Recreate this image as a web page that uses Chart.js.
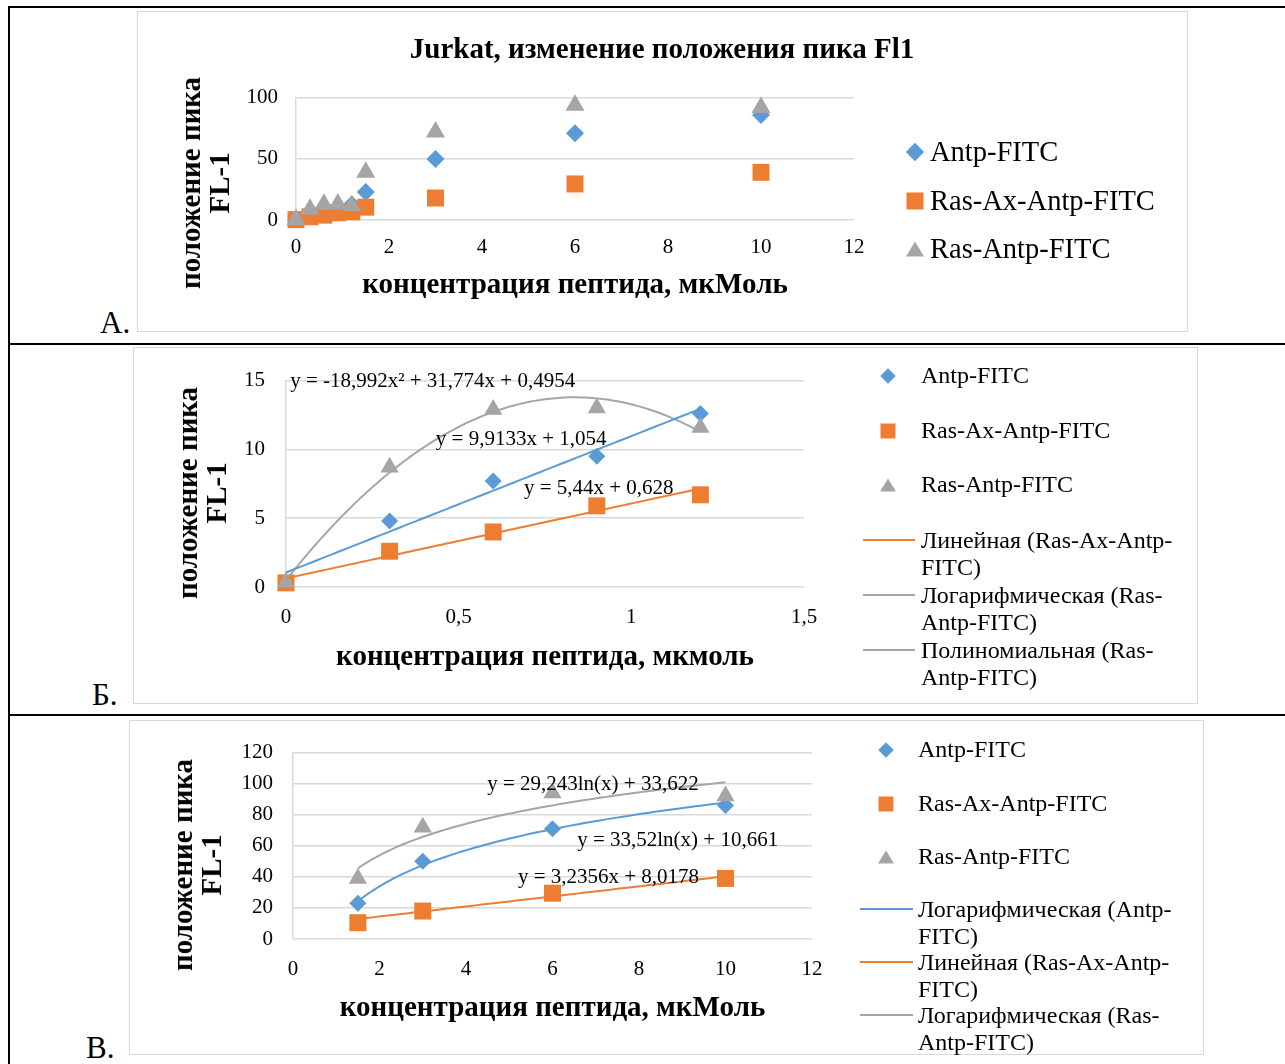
<!DOCTYPE html>
<html lang="ru">
<head>
<meta charset="utf-8">
<title>Jurkat, изменение положения пика Fl1</title>
<script src="https://cdn.jsdelivr.net/npm/chart.js@4.4.0/dist/chart.umd.min.js"></script>
<style>
  html, body { margin: 0; padding: 0; background: #fff; }
  body { width: 1285px; height: 1064px; position: relative; overflow: hidden;
         font-family: 'Liberation Serif', 'Times New Roman', serif; color: #000; }
  .hline { position: absolute; height: 2px; background: #000; }
  .vline { position: absolute; width: 2px; background: #000; }
  .box { position: absolute; border: 1.5px solid #d9d9d9; box-sizing: border-box; }
  .plot { position: absolute; }
  .ytitle { position: absolute; transform: translate(-50%, -50%) rotate(-90deg);
            font-weight: bold; font-size: 29px; line-height: 29px; text-align: center; white-space: nowrap; }
  .letter { position: absolute; font-size: 31px; line-height: 1; }
  .leg { position: absolute; white-space: nowrap; }
  .legA { font-size: 28.5px; line-height: 32px; }
  .legB { font-size: 24px; line-height: 27px; }
  .mk { position: absolute; transform: translate(-50%, -50%); }
  .dia { transform: translate(-50%, -50%) rotate(45deg); }
  .tri { width: 0; height: 0; background: none !important; border-style: solid; border-top-width: 0; }
  .ln { position: absolute; height: 2px; }
</style>
</head>
<body>

<!-- рамка таблицы -->
<div class="hline" style="left:8px; top:6px; width:1277px;"></div>
<div class="vline" style="left:8px; top:6px; height:1058px;"></div>
<div class="hline" style="left:8px; top:343px; width:1277px;"></div>
<div class="hline" style="left:8px; top:714px; width:1277px;"></div>

<!-- А -->
<div class="box" style="left:137px; top:11px; width:1051px; height:321px;"></div>
<div class="plot" style="left:137px; top:11px; width:1050px; height:320px;"><canvas id="chartA"></canvas></div>
<div class="ytitle" style="left:205px; top:183px;">положение пика<br>FL-1</div>
<div class="letter" style="left:100px; top:307px;">А.</div>

<div class="mk dia" style="left:915px; top:152px; width:13px; height:13px; background:#5b9bd5;"></div>
<div class="mk" style="left:915px; top:201px; width:17px; height:17px; background:#ed7d31;"></div>
<div class="mk tri" style="left:915px; top:249px; border-color: transparent transparent #a5a5a5 transparent; border-left-width:9px; border-right-width:9px; border-bottom-width:15px;"></div>
<div class="leg legA" style="left:930px; top:136px;">Antp-FITC</div>
<div class="leg legA" style="left:930px; top:185px;">Ras-Ax-Antp-FITC</div>
<div class="leg legA" style="left:930px; top:233px;">Ras-Antp-FITC</div>

<!-- Б -->
<div class="box" style="left:133px; top:347px; width:1065px; height:357px;"></div>
<div class="plot" style="left:133px; top:347px; width:1064px; height:356px;"><canvas id="chartB"></canvas></div>
<div class="ytitle" style="left:202px; top:493px;">положение пика<br>FL-1</div>
<div class="letter" style="left:92px; top:679px;">Б.</div>

<div class="mk dia" style="left:888px; top:376px; width:11px; height:11px; background:#5b9bd5;"></div>
<div class="mk" style="left:888px; top:431px; width:15px; height:15px; background:#ed7d31;"></div>
<div class="mk tri" style="left:888px; top:485px; border-color: transparent transparent #a5a5a5 transparent; border-left-width:8px; border-right-width:8px; border-bottom-width:13px;"></div>
<div class="ln" style="left:863px; top:539px; width:52px; background:#ed7d31;"></div>
<div class="ln" style="left:863px; top:594px; width:52px; background:#a5a5a5;"></div>
<div class="ln" style="left:863px; top:649px; width:52px; background:#a5a5a5;"></div>
<div class="leg legB" style="left:921px; top:362px;">Antp-FITC</div>
<div class="leg legB" style="left:921px; top:417px;">Ras-Ax-Antp-FITC</div>
<div class="leg legB" style="left:921px; top:471px;">Ras-Antp-FITC</div>
<div class="leg legB" style="left:921px; top:527px;">Линейная (Ras-Ax-Antp-<br>FITC)</div>
<div class="leg legB" style="left:921px; top:582px;">Логарифмическая (Ras-<br>Antp-FITC)</div>
<div class="leg legB" style="left:921px; top:637px;">Полиномиальная (Ras-<br>Antp-FITC)</div>

<!-- В -->
<div class="box" style="left:129px; top:720px; width:1075px; height:335px;"></div>
<div class="plot" style="left:130px; top:720px; width:1074px; height:334px;"><canvas id="chartC"></canvas></div>
<div class="ytitle" style="left:197px; top:865px;">положение пика<br>FL-1</div>
<div class="letter" style="left:86px; top:1032px;">В.</div>

<div class="mk dia" style="left:886px; top:750px; width:11px; height:11px; background:#5b9bd5;"></div>
<div class="mk" style="left:886px; top:804px; width:15px; height:15px; background:#ed7d31;"></div>
<div class="mk tri" style="left:886px; top:857px; border-color: transparent transparent #a5a5a5 transparent; border-left-width:8px; border-right-width:8px; border-bottom-width:13px;"></div>
<div class="ln" style="left:860px; top:908px; width:53px; background:#5b9bd5;"></div>
<div class="ln" style="left:860px; top:961px; width:53px; background:#ed7d31;"></div>
<div class="ln" style="left:860px; top:1014px; width:53px; background:#a5a5a5;"></div>
<div class="leg legB" style="left:918px; top:736px;">Antp-FITC</div>
<div class="leg legB" style="left:918px; top:790px;">Ras-Ax-Antp-FITC</div>
<div class="leg legB" style="left:918px; top:843px;">Ras-Antp-FITC</div>
<div class="leg legB" style="left:918px; top:896px;">Логарифмическая (Antp-<br>FITC)</div>
<div class="leg legB" style="left:918px; top:949px;">Линейная (Ras-Ax-Antp-<br>FITC)</div>
<div class="leg legB" style="left:918px; top:1002px;">Логарифмическая (Ras-<br>Antp-FITC)</div>

<script>
Chart.defaults.font.family = "'Liberation Serif', 'Times New Roman', serif";
Chart.defaults.color = '#000';
Chart.defaults.maintainAspectRatio = false;
Chart.defaults.responsive = true;
Chart.defaults.animation = false;

// концентрация пептида, мкМоль
const concentration = [0, 0.3, 0.6, 0.9, 1.2, 1.5, 3, 6, 10];
// положение пика FL-1
const antpFitc      = [0.3, 4.8, 7.7, 9.5, 12.6, 23, 50, 71, 86];
const rasAxAntpFitc = [0.3, 2.6, 4.0, 5.9, 6.7, 10.5, 18, 29.5, 39];
const rasAntpFitc   = [0.35, 8.7, 12.9, 13.0, 11.6, 39, 72, 94, 92];

// оси
const xTicksA = [0, 2, 4, 6, 8, 10, 12];
const yTicksA = [0, 50, 100];
const xTicksB = [0, 0.5, 1, 1.5];
const yTicksB = [0, 5, 10, 15];
const xTicksC = [0, 2, 4, 6, 8, 10, 12];
const yTicksC = [0, 20, 40, 60, 80, 100, 120];

// коэффициенты линий тренда (из уравнений на графике)
const trendB_antp    = [9.9133, 1.054];            // a*x + b
const trendB_rasAx   = [5.44, 0.628];              // a*x + b
const trendB_rasAntp = [-18.992, 31.774, 0.4954];  // a*x^2 + b*x + c
const trendC_antp    = [33.52, 10.661];            // a*ln(x) + b
const trendC_rasAx   = [3.2356, 8.0178];           // a*x + b
const trendC_rasAntp = [29.243, 33.622];           // a*ln(x) + b

const BLUE = '#5b9bd5', ORANGE = '#ed7d31', GRAY = '#a5a5a5';

const pts = (xs, ys) => xs.map((x, i) => ({ x: x, y: ys[i] }));
const lin = c => x => c[0] * x + c[1];
const poly2 = c => x => c[0] * x * x + c[1] * x + c[2];
const logf = c => x => c[0] * Math.log(x) + c[1];

function trend(fn, x0, x1) {
    const out = [];
    for (let i = 0; i <= 80; i++) {
        const x = x0 + (x1 - x0) * i / 80;
        out.push({ x: x, y: fn(x) });
    }
    return out;
}

function markers(label, data, style, radius, color, order) {
    return {
        label: label, data: data, pointStyle: style, pointRadius: radius,
        backgroundColor: color, borderColor: color, pointBorderWidth: 0,
        showLine: false, clip: false, order: order
    };
}

function trendLine(data, color) {
    return {
        data: data, showLine: true, pointRadius: 0, borderColor: color,
        borderWidth: 2, fill: false, tension: 0, clip: false, order: 0
    };
}

const fmt = v => String(v).replace('.', ',');

function xScale(ticks, height, pad, title) {
    return {
        type: 'linear', position: 'bottom', min: ticks[0], max: ticks[ticks.length - 1],
        afterBuildTicks: s => { s.ticks = ticks.map(v => ({ value: v })); },
        afterFit: s => { s.height = height; },
        grid: { display: false, drawTicks: false },
        border: { display: false },
        ticks: { padding: pad, font: { size: 21 }, color: '#000', callback: fmt },
        title: {
            display: true, text: title, color: '#000',
            font: { size: 29, weight: 'bold', lineHeight: 1.1 },
            padding: { top: 30, bottom: 30 }
        }
    };
}

function yScale(ticks, width, pad) {
    return {
        type: 'linear', min: ticks[0], max: ticks[ticks.length - 1],
        afterBuildTicks: s => { s.ticks = ticks.map(v => ({ value: v })); },
        afterFit: s => { s.width = width; },
        grid: { color: '#d9d9d9', lineWidth: 1.5, drawTicks: false },
        border: { display: true, color: '#d9d9d9', width: 1.5 },
        ticks: { padding: pad, font: { size: 21 }, color: '#000', callback: fmt }
    };
}

// пустое место справа под легенду (чтобы заголовок центрировался по всей рамке)
function spacer(width) {
    return {
        type: 'linear', position: 'right', display: true,
        afterFit: s => { s.width = width; },
        grid: { display: false, drawTicks: false },
        border: { display: false },
        ticks: { display: false }
    };
}

// подписи уравнений тренда
const eqLabels = {
    id: 'eqLabels',
    afterDatasetsDraw(chart, args, opts) {
        const items = opts.items || [];
        const ctx = chart.ctx, x = chart.scales.x, y = chart.scales.y;
        ctx.save();
        ctx.font = "21px 'Liberation Serif', serif";
        ctx.fillStyle = '#000';
        ctx.textAlign = 'left';
        ctx.textBaseline = 'middle';
        items.forEach(it => ctx.fillText(it.text, x.getPixelForValue(it.x), y.getPixelForValue(it.y)));
        ctx.restore();
    }
};

// А. Jurkat, все концентрации
new Chart(document.getElementById('chartA'), {
    type: 'scatter',
    data: {
        datasets: [
            markers('Antp-FITC', pts(concentration, antpFitc), 'rectRot', 9, BLUE, 3),
            markers('Ras-Ax-Antp-FITC', pts(concentration, rasAxAntpFitc), 'rect', 12, ORANGE, 2),
            markers('Ras-Antp-FITC', pts(concentration, rasAntpFitc), 'triangle', 11, GRAY, 1)
        ]
    },
    options: {
        layout: { padding: { left: 0, right: 0, top: 0, bottom: 0 } },
        plugins: {
            legend: { display: false },
            tooltip: { enabled: false },
            title: {
                display: true, text: 'Jurkat, изменение положения пика Fl1', color: '#000',
                font: { size: 29, weight: 'bold', lineHeight: 1.2 },
                padding: { top: 22, bottom: 30 }
            }
        },
        scales: {
            x: xScale(xTicksA, 111, 15, 'концентрация пептида, мкМоль'),
            y: yScale(yTicksA, 159, 18),
            pad: spacer(333)
        }
    }
});

// Б. низкие концентрации
const lowX = concentration.slice(0, 5);
new Chart(document.getElementById('chartB'), {
    type: 'scatter',
    plugins: [eqLabels],
    data: {
        datasets: [
            trendLine(trend(lin(trendB_antp), 0, 1.2), BLUE),
            trendLine(trend(lin(trendB_rasAx), 0, 1.2), ORANGE),
            trendLine(trend(poly2(trendB_rasAntp), 0, 1.2), GRAY),
            markers('Antp-FITC', pts(lowX, antpFitc.slice(0, 5)), 'rectRot', 8.5, BLUE, 3),
            markers('Ras-Ax-Antp-FITC', pts(lowX, rasAxAntpFitc.slice(0, 5)), 'rect', 12, ORANGE, 2),
            markers('Ras-Antp-FITC', pts(lowX, rasAntpFitc.slice(0, 5)), 'triangle', 10.5, GRAY, 1)
        ]
    },
    options: {
        layout: { padding: { left: 0, right: 393, top: 30, bottom: 0 } },
        plugins: {
            legend: { display: false },
            tooltip: { enabled: false },
            eqLabels: {
                items: [
                    { text: 'y = -18,992x² + 31,774x + 0,4954', x: 0.012, y: 14.93 },
                    { text: 'y = 9,9133x + 1,054', x: 0.434, y: 10.71 },
                    { text: 'y = 5,44x + 0,628', x: 0.689, y: 7.14 }
                ]
            }
        },
        scales: {
            x: xScale(xTicksB, 116, 18, 'концентрация пептида, мкмоль'),
            y: yScale(yTicksB, 153, 21)
        }
    }
});

// В. высокие концентрации
const highX = concentration.slice(5);
new Chart(document.getElementById('chartC'), {
    type: 'scatter',
    plugins: [eqLabels],
    data: {
        datasets: [
            trendLine(trend(logf(trendC_antp), 1.5, 10), BLUE),
            trendLine(trend(lin(trendC_rasAx), 1.5, 10), ORANGE),
            trendLine(trend(logf(trendC_rasAntp), 1.5, 10), GRAY),
            markers('Antp-FITC', pts(highX, antpFitc.slice(5)), 'rectRot', 8.5, BLUE, 3),
            markers('Ras-Ax-Antp-FITC', pts(highX, rasAxAntpFitc.slice(5)), 'rect', 12, ORANGE, 2),
            markers('Ras-Antp-FITC', pts(highX, rasAntpFitc.slice(5)), 'triangle', 10.5, GRAY, 1)
        ]
    },
    options: {
        layout: { padding: { left: 0, right: 392, top: 29, bottom: 0 } },
        plugins: {
            legend: { display: false },
            tooltip: { enabled: false },
            eqLabels: {
                items: [
                    { text: 'y = 29,243ln(x) + 33,622', x: 4.49, y: 99.2 },
                    { text: 'y = 33,52ln(x) + 10,661', x: 6.57, y: 63.2 },
                    { text: 'y = 3,2356x + 8,0178', x: 5.2, y: 39.8 }
                ]
            }
        },
        scales: {
            x: xScale(xTicksC, 115, 18, 'концентрация пептида, мкМоль'),
            y: yScale(yTicksC, 163, 20)
        }
    }
});
</script>
</body>
</html>
